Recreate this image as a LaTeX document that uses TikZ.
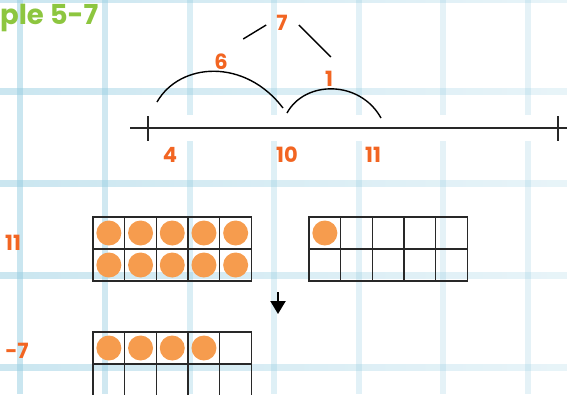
\documentclass[tikz,border=0pt]{standalone}
\usepackage{fontspec}
\setmainfont{Poppins}
\usetikzlibrary{arrows.meta, positioning, calc}
\definecolor{gridBlue}{RGB}{150,205,225}
\definecolor{numOrange}{RGB}{242,101,34}
\definecolor{dotOrange}{RGB}{246,156,78}
\definecolor{titleGreen}{RGB}{141,198,63}
\definecolor{lineInk}{RGB}{40,40,40}

% ten-frame: left x, top y, number of dots
\newcommand{\tenframe}[3]{%
  \foreach \dc in {0,...,4} \foreach \dr in {0,1}
    \draw[cell] ({#1+\dc*31.7},{#2+\dr*32}) rectangle ++(31.7,32);
  \foreach \k in {1,...,#3} {
    \pgfmathtruncatemacro\dcol{mod(\k-1,5)}
    \pgfmathtruncatemacro\drow{(\k-1)/5}
    \fill[dot] ({#1+(\dcol+0.5)*31.7},{#2+(\drow+0.5)*32}) circle (12.5pt);
  }}

\begin{document}
\begin{tikzpicture}[x=1pt,y=-1pt,
  cell/.style={draw=lineInk,line width=1.3pt},
  dot/.style={fill=dotOrange},
  num/.style={text=numOrange,inner sep=0pt,
              font=\bfseries\fontsize{21}{21}\selectfont},
  arc/.style={draw=black,line width=1.4pt},
  axis/.style={draw=lineInk,line width=1.5pt},
  arr/.style={-{Triangle[width=15pt,length=13pt]},line width=2.2pt}]
\useasboundingbox (0,0) rectangle (567,394);
\clip (0,0) rectangle (567,394);

% background grid
\foreach \gy in {-1,91,183,275,367}
  \shade[left color=gridBlue!50,right color=gridBlue!22]
    (0,{\gy-3}) rectangle (567,{\gy+3});
\foreach \gx/\op in {20/0.5,105/0.45,190/0.35,274/0.3,359/0.28,443/0.25,528/0.25}
  \fill[gridBlue,opacity=\op] ({\gx-3},0) rectangle ({\gx+3},394);
\fill[white] (128,115) rectangle (567,141);

\node[anchor=base west,inner sep=0pt,text=titleGreen,
      font=\bfseries\fontsize{27.5}{27.5}\selectfont] (title) at (0,24) {ple 5-7};

% number line
\draw[axis] (130,128) -- (567,128);
\draw[axis] (148,116) -- (148,141);
\draw[axis] (558,116) -- (558,141);
\node[num] (n4) at (170,155) {4};
\node[num] (n10) at (287,155) {10};
\node[num] (n11) at (373,155) {11};

% jumps
\coordinate (j4) at (157,102);
\coordinate (j10a) at (283,108);
\coordinate (j10b) at (287,113);
\coordinate (j11) at (381,118);
\draw[arc] (j4) .. controls (180,62) and (245,58) .. (j10a);
\draw[arc] (j10b) .. controls (305,80) and (360,80) .. (j11);
\node[num] (n6) at (221,62) {6};
\node[num] (n1) at (329,79) {1};
\node[num] (n7) at (282,23) {7};
\draw[arc] ([shift={(-10,2)}]n7.west) -- ++(-23,14);
\draw[arc] ([shift={(11,2)}]n7.east) -- ++(32,32);

% ten-frames
\node[num] (l11) at (13,243) {11};
\node[num] (lm7) at (17,351) {-7};
\tenframe{93}{217}{10}
\tenframe{309}{217}{1}
\tenframe{93}{332}{4}
\coordinate (dn) at (278,292);
\draw[arr] (dn) -- ++(0,22);
\end{tikzpicture}
\end{document}
